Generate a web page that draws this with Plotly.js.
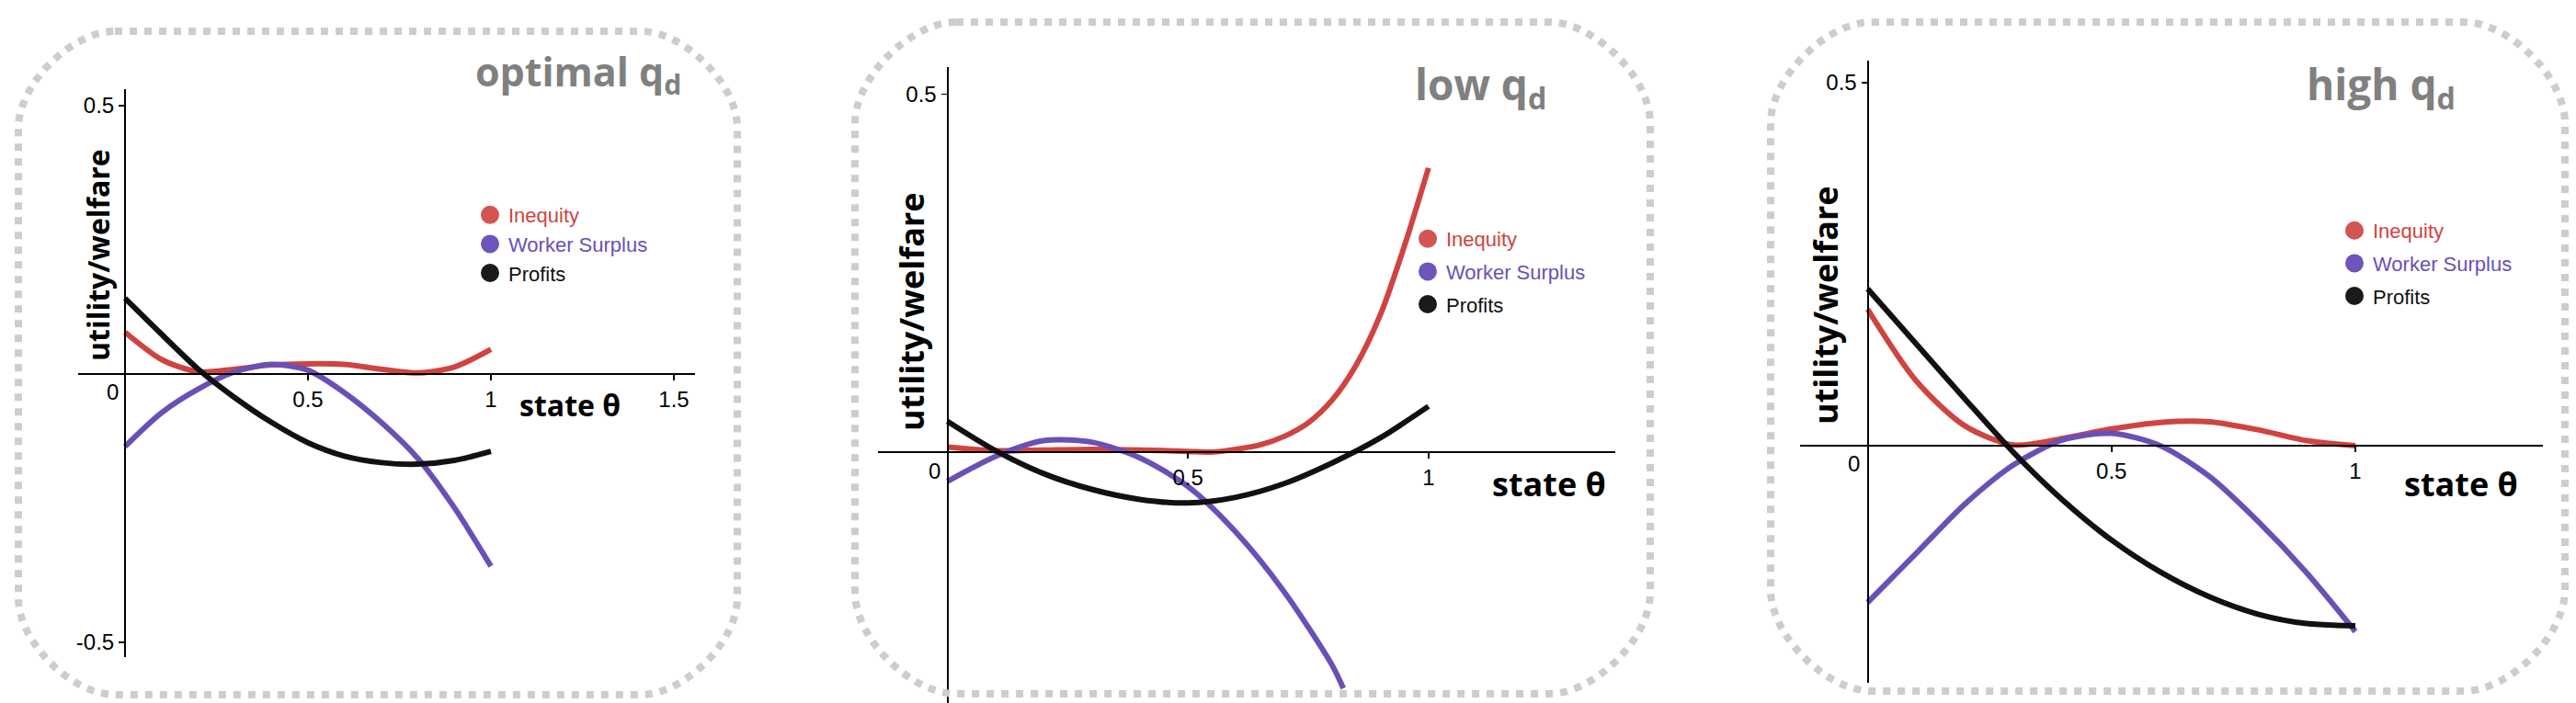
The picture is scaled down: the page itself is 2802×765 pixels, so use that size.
<!DOCTYPE html>
<html>
<head>
<meta charset="utf-8">
<script src="https://cdn.plot.ly/plotly-3.0.1.min.js"></script>
<style>
    body { margin: 0; background: #ffffff; }
    #chart { width: 2802px; height: 765px; }
</style>
</head>
<body>
<div id="chart"></div>
<script>
// state theta grid (x values) and the three curves of each panel
var theta = [0, 0.1, 0.2, 0.3, 0.4, 0.5, 0.6, 0.7, 0.8, 0.9, 1];

// optimal q_d
var optInequity = [0.078, 0.027, 0.004, 0.009, 0.017, 0.019, 0.018, 0.009, 0.002, 0.013, 0.046];
var optWorker = [-0.135, -0.072, -0.028, 0.004, 0.018, 0.007, -0.035, -0.090, -0.157, -0.249, -0.358];
var optProfits = [0.141, 0.074, 0.009, -0.044, -0.090, -0.128, -0.153, -0.165, -0.168, -0.161, -0.144];

// low q_d
var lowThetaIneq = [0, 0.1, 0.2, 0.3, 0.4, 0.5, 0.55, 0.6, 0.65, 0.7, 0.75, 0.8, 0.85, 0.9, 0.95, 1];
var lowInequity = [0.007, 0.002, 0.003, 0.004, 0.003, 0.001, 0.0, 0.004, 0.010, 0.022, 0.041, 0.073, 0.122, 0.192, 0.288, 0.397];
var lowThetaWorker = [0, 0.1, 0.2, 0.3, 0.4, 0.5, 0.6, 0.7, 0.8, 0.823];
var lowWorker = [-0.041, -0.006, 0.016, 0.014, -0.008, -0.048, -0.112, -0.195, -0.298, -0.330];
var lowProfits = [0.043, 0.002, -0.030, -0.052, -0.066, -0.071, -0.063, -0.044, -0.015, 0.020, 0.064];

// high q_d
var highInequity = [0.188, 0.089, 0.027, 0.001, 0.010, 0.023, 0.032, 0.033, 0.022, 0.007, 0.0];
var highWorker = [-0.216, -0.148, -0.080, -0.026, 0.008, 0.017, 0.0, -0.042, -0.104, -0.175, -0.256];
var highProfits = [0.216, 0.140, 0.064, -0.010, -0.075, -0.130, -0.174, -0.208, -0.232, -0.245, -0.248];

var seriesNames = ['Inequity', 'Worker Surplus', 'Profits'];
var panelTitles = ['optimal q<sub>d</sub>', 'low q<sub>d</sub>', 'high q<sub>d</sub>'];
var xTickVals = [[0.5, 1, 1.5], [0.5, 1], [0.5, 1]];
var xTickText = [['0.5', '1', '1.5'], ['0.5', '1'], ['0.5', '1']];
var yTickVals = [[-0.5, 0.5], [0.5], [0.5]];
var yTickText = [['-0.5', '0.5'], ['0.5'], ['0.5']];

var lineColors = ['#cf4441', '#6a50b6', '#111111'];
var dotColors = ['#d35553', '#6d55b9', '#1a1a1a'];

var W = 2802, H = 765;
function px(x) { return x / W; }
function py(y) { return 1 - y / H; }

// pixel geometry of each panel (where 0 sits, pixels per unit, axis extents, frame)
var panels = [
    {x0: 136, ppx: 398, xl: 85, xr: 756, y0: 407, ppy: 584, yt: 97, yb: 715,
     box: [20, 34, 802, 756], r: 105, titlePos: [515, 80], titleSize: 43,
     ylabPos: [106, 278], xlabPos: [563, 441], labSize: 32, legPos: [533, 232], legGap: 0,
     zeroShift: [-14, -19]},
    {x0: 1030.5, ppx: 523.3, xl: 955, xr: 1757, y0: 492, ppy: 779, yt: 73, yb: 765,
     box: [930, 24, 1795, 755], r: 110, titlePos: [1537, 94], titleSize: 46,
     ylabPos: [991, 339], xlabPos: [1621, 526], labSize: 36, legPos: [1553, 258], legGap: 4,
     zeroShift: [-14, -20]},
    {x0: 2031.5, ppx: 530.5, xl: 1958, xr: 2766, y0: 485, ppy: 790, yt: 66, yb: 743,
     box: [1926, 24, 2790, 752], r: 110, titlePos: [2507, 94], titleSize: 46,
     ylabPos: [1985, 332], xlabPos: [2613, 526], labSize: 36, legPos: [2561, 249], legGap: 4,
     zeroShift: [-15, -19]}
];

var curves = [
    [[theta, optInequity], [theta, optWorker], [theta, optProfits]],
    [[lowThetaIneq, lowInequity], [lowThetaWorker, lowWorker], [theta, lowProfits]],
    [[theta, highInequity], [theta, highWorker], [theta, highProfits]]
];

function roundRect(b, r) {
    var x0 = b[0], y0 = b[1], x1 = b[2], y1 = b[3], k = 0.45 * r;
    function P(x, y) { return px(x).toFixed(5) + ',' + py(y).toFixed(5); }
    return 'M' + P(x0 + r, y0) + ' L' + P(x1 - r, y0) +
        ' C' + P(x1 - r + k, y0) + ' ' + P(x1, y0 + r - k) + ' ' + P(x1, y0 + r) +
        ' L' + P(x1, y1 - r) +
        ' C' + P(x1, y1 - r + k) + ' ' + P(x1 - r + k, y1) + ' ' + P(x1 - r, y1) +
        ' L' + P(x0 + r, y1) +
        ' C' + P(x0 + r - k, y1) + ' ' + P(x0, y1 - r + k) + ' ' + P(x0, y1 - r) +
        ' L' + P(x0, y0 + r) +
        ' C' + P(x0, y0 + r - k) + ' ' + P(x0 + r - k, y0) + ' ' + P(x0 + r, y0) + ' Z';
}

var traces = [];
var layout = {
    width: W,
    height: H,
    margin: {l: 0, r: 0, t: 0, b: 0},
    paper_bgcolor: '#ffffff',
    plot_bgcolor: 'rgba(0,0,0,0)',
    font: {family: 'Liberation Sans, Arial, sans-serif', size: 22, color: '#000000'},
    showlegend: true,
    shapes: [],
    annotations: []
};

var tickFont = {family: 'Liberation Sans, Arial, sans-serif', size: 24, color: '#000000'};

for (let p = 0; p < panels.length; p++) {
    const g = panels[p];
    const sfx = p === 0 ? '' : String(p + 1);
    const legendId = 'legend' + sfx;

    layout['xaxis' + sfx] = {
        domain: [px(g.xl), px(g.xr)],
        range: [(g.xl - g.x0) / g.ppx, (g.xr - g.x0) / g.ppx],
        anchor: 'free',
        position: py(g.y0),
        showline: true, linecolor: '#000000', linewidth: 2,
        showgrid: false, zeroline: false,
        ticks: 'outside', ticklen: 6, tickwidth: 1.5, tickcolor: '#000000',
        tickmode: 'array', tickvals: xTickVals[p], ticktext: xTickText[p],
        tickfont: tickFont, fixedrange: true
    };
    layout['yaxis' + sfx] = {
        domain: [py(g.yb), py(g.yt)],
        range: [(g.y0 - g.yb) / g.ppy, (g.y0 - g.yt) / g.ppy],
        anchor: 'free',
        position: px(g.x0),
        side: 'left',
        showline: true, linecolor: '#000000', linewidth: 2,
        showgrid: false, zeroline: false,
        ticks: 'outside', ticklen: 6, tickwidth: 1.5, tickcolor: '#000000',
        tickmode: 'array', tickvals: yTickVals[p], ticktext: yTickText[p],
        tickfont: tickFont, fixedrange: true
    };

    // curves
    for (let s = 0; s < 3; s++) {
        traces.push({
            x: curves[p][s][0],
            y: curves[p][s][1],
            xaxis: 'x' + sfx, yaxis: 'y' + sfx,
            mode: 'lines',
            line: {color: lineColors[s], width: 6, shape: 'spline', smoothing: 0.8},
            showlegend: false,
            hoverinfo: 'skip'
        });
    }
    // legend entries: round dots with coloured text
    for (let s = 0; s < 3; s++) {
        traces.push({
            x: [null], y: [null],
            xaxis: 'x' + sfx, yaxis: 'y' + sfx,
            mode: 'markers',
            marker: {size: 16, color: dotColors[s], line: {width: 4, color: dotColors[s]}},
            name: '<span style="color:' + lineColors[s] + '">' + seriesNames[s] + '</span>',
            legend: legendId,
            legendgroup: 'p' + p + 's' + s,
            showlegend: true
        });
    }

    layout[legendId] = {
        x: px(g.legPos[0] - 20),
        y: py(g.legPos[1] - 19),
        xanchor: 'left', yanchor: 'top',
        bgcolor: 'rgba(0,0,0,0)',
        borderwidth: 0,
        itemsizing: 'trace',
        tracegroupgap: g.legGap,
        font: {family: 'Liberation Sans, Arial, sans-serif', size: 22}
    };

    // dashed rounded frame
    layout.shapes.push({
        type: 'path', xref: 'paper', yref: 'paper',
        path: roundRect(g.box, g.r),
        line: {color: '#cdcdcd', width: 8, dash: '8px,8px'}
    });

    // panel title
    layout.annotations.push({
        xref: 'paper', yref: 'paper', x: px(g.titlePos[0]), y: py(g.titlePos[1]),
        xanchor: 'left', yanchor: 'middle', showarrow: false,
        text: '<b>' + panelTitles[p] + '</b>',
        font: {family: 'Open Sans', size: g.titleSize, color: '#808080'}
    });
    // y axis label
    layout.annotations.push({
        xref: 'paper', yref: 'paper', x: px(g.ylabPos[0]), y: py(g.ylabPos[1]),
        xanchor: 'center', yanchor: 'middle', showarrow: false, textangle: -90,
        text: '<b>utility/welfare</b>',
        font: {family: 'Open Sans', size: g.labSize, color: '#000000'}
    });
    // x axis label
    layout.annotations.push({
        xref: 'paper', yref: 'paper', x: px(g.xlabPos[0]), y: py(g.xlabPos[1]),
        xanchor: 'left', yanchor: 'middle', showarrow: false,
        text: '<b>state θ</b>',
        font: {family: 'Open Sans', size: g.labSize, color: '#000000'}
    });
    // origin label "0", set off to the left of the y axis
    layout.annotations.push({
        xref: 'x' + sfx, yref: 'y' + sfx, x: 0, y: 0,
        xshift: g.zeroShift[0], yshift: g.zeroShift[1],
        xanchor: 'center', yanchor: 'middle', showarrow: false,
        text: '0', font: tickFont
    });
}

Plotly.newPlot('chart', traces, layout, {displayModeBar: false, staticPlot: true});
</script>
</body>
</html>
